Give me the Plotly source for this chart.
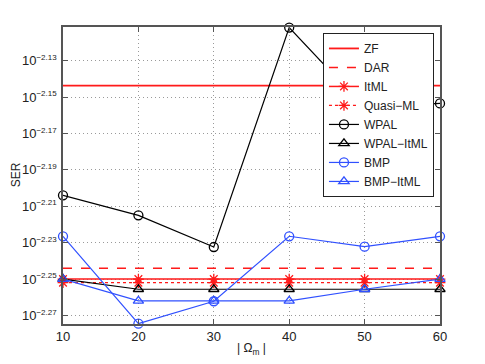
import plotly.graph_objects as go

# -----------------------------
# data (exponents of SER)
# -----------------------------
omega = [10, 20, 30, 40, 50, 60]

zf = [-2.1437] * 6
dar = [-2.2441] * 6
itml = [-2.2500] * 6
quasi_ml = [-2.2520] * 6
wpal = [-2.2040, -2.2150, -2.2324, -2.1118, -2.1558, -2.1535]
wpal_itml = [-2.2500, -2.2556, -2.2556, -2.2556, -2.2556, -2.2556]
bmp = [-2.2265, -2.2745, -2.2622, -2.2265, -2.2322, -2.2265]
bmp_itml = [-2.2500, -2.2620, -2.2620, -2.2620, -2.2556, -2.2500]

ytick_exp = [-2.13, -2.15, -2.17, -2.19, -2.21, -2.23, -2.25, -2.27]

RED = "#ff1a1a"
BLUE = "#3050ff"
BLACK = "#000000"
FONT = "Liberation Sans, Arial"

series = [
    ("ZF", zf, RED, "solid", None, 1.8),
    ("DAR", dar, RED, "dash", None, 1.5),
    ("ItML", itml, RED, "solid", "asterisk-open", 1.5),
    ("Quasi\u2212ML", quasi_ml, RED, "dot", "asterisk-open", 1.2),
    ("WPAL", wpal, BLACK, "solid", "circle-open", 1.2),
    ("WPAL\u2212ItML", wpal_itml, BLACK, "solid", "triangle-up-open", 1.2),
    ("BMP", bmp, BLUE, "solid", "circle-open", 1.2),
    ("BMP\u2212ItML", bmp_itml, BLUE, "solid", "triangle-up-open", 1.2),
]

fig = go.Figure()
for name, vals, color, dash, symbol, width in series:
    fig.add_trace(go.Scatter(
        x=omega,
        y=[10 ** v for v in vals],
        name=name,
        mode="lines+markers" if symbol else "lines",
        line=dict(color=color, dash=dash, width=width),
        marker=dict(symbol=symbol or "circle", size=9, color=color,
                    line=dict(color=color, width=1.3)),
        cliponaxis=False,
    ))

axis_common = dict(
    showline=True, linecolor="#555555", linewidth=1.5, mirror="ticks",
    ticks="inside", ticklen=5, tickcolor="#555555",
    showgrid=True, gridcolor="#9a9a9a", griddash="1px,3px", gridwidth=1,
    zeroline=False, automargin=False,
)

fig.update_xaxes(
    range=[10, 60], tickvals=omega,
    tickfont=dict(family=FONT, size=13, color="#222222"),
    **axis_common,
)
fig.update_yaxes(
    type="log", range=[-2.2747, -2.1115],
    tickvals=[10 ** e for e in ytick_exp],
    ticktext=["10<sup><span style='font-size:8px'>\u2212%.2f</span></sup>" % -e
              for e in ytick_exp],
    tickfont=dict(family=FONT, size=13, color="#222222"),
    ticklabelstandoff=2,
    **axis_common,
)

# axis titles placed as annotations (page body adds an 8px offset)
fig.add_annotation(text="| \u03a9<sub>m</sub> |", xref="paper", yref="paper",
                   x=0.5, y=-0.084, xanchor="center", yanchor="middle",
                   showarrow=False,
                   font=dict(family=FONT, size=12, color="#222222"))
fig.add_annotation(text="SER", xref="paper", yref="paper",
                   x=-0.124, y=0.502, xanchor="center", yanchor="middle",
                   showarrow=False, textangle=-90,
                   font=dict(family=FONT, size=12, color="#222222"))

fig.update_layout(
    width=485, height=364,
    margin=dict(l=55, r=53, t=19, b=48),
    plot_bgcolor="white", paper_bgcolor="white",
    showlegend=True,
    legend=dict(
        x=0.984, y=0.98, xanchor="right", yanchor="top",
        bgcolor="white", bordercolor="#222222", borderwidth=1,
        font=dict(family=FONT, size=12, color="#222222"),
        tracegroupgap=0, itemwidth=30,
    ),
)

fig.write_html("out.html")
